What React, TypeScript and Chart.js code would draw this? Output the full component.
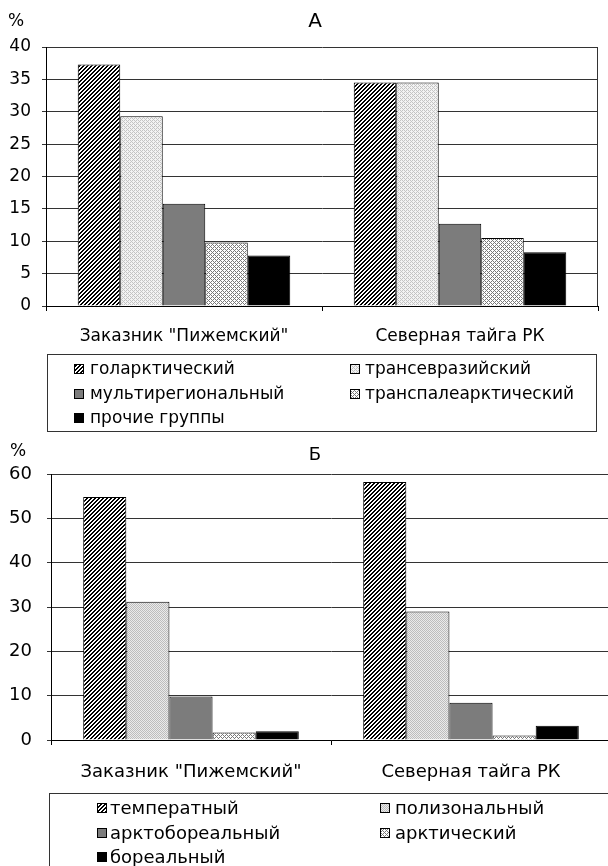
import React, { useEffect, useRef } from 'react';
import { Chart, registerables } from 'chart.js';

Chart.register(...registerables);

const FONT = '"DejaVu Sans", "Liberation Sans", sans-serif';
const GRID = '#333333';

// Panel А — chorological spectrum
const sites = ['Заказник "Пижемский"', 'Северная тайга РК'];
const groupsA = ['голарктический', 'трансевразийский', 'мультирегиональный', 'транспалеарктический', 'прочие группы'];
const holarcticA = [37.3, 34.5];
const transEurasianA = [29.3, 34.5];
const multiregionalA = [15.8, 12.7];
const transPalearcticA = [9.8, 10.5];
const otherGroupsA = [7.8, 8.3];
const yMaxA = 40;
const yStepA = 5;

// Panel Б — zonal spectrum
const groupsB = ['температный', 'полизональный', 'арктобореальный', 'арктический', 'бореальный'];
const temperateB = [54.8, 58.2];
const polyzonalB = [31.2, 29.0];
const arctoborealB = [9.8, 8.4];
const arcticB = [1.7, 1.0];
const borealB = [2.0, 3.2];
const yMaxB = 60;
const yStepB = 10;

type Fill = 'hatch' | 'dots' | 'dotsDense' | 'grey' | 'lattice' | 'black';

function tile(ctx: CanvasRenderingContext2D, n: number, base: string, ink: string, on: (x: number, y: number) => boolean) {
  const c = document.createElement('canvas');
  c.width = n;
  c.height = n;
  const g = c.getContext('2d')!;
  g.fillStyle = base;
  g.fillRect(0, 0, n, n);
  g.fillStyle = ink;
  for (let y = 0; y < n; y++) for (let x = 0; x < n; x++) if (on(x, y)) g.fillRect(x, y, 1, 1);
  return ctx.createPattern(c, 'repeat')!;
}

function makeFill(ctx: CanvasRenderingContext2D, kind: Fill): CanvasPattern | string {
  switch (kind) {
    case 'hatch':
      return tile(ctx, 4, '#ffffff', '#000000', (x, y) => (x + y) % 4 < 2);
    case 'dots':
      return tile(ctx, 4, '#f3f3f3', '#c4c4c4', (x, y) => (x % 2 === 0 && y % 2 === 0) || (x === 1 && y === 3) || (x === 3 && y === 1));
    case 'dotsDense':
      return tile(ctx, 2, '#eaeaea', '#bdbdbd', (x, y) => (x + y) % 2 === 0);
    case 'lattice':
      return tile(ctx, 4, '#ffffff', '#7a7a7a', (x, y) => (x + y) % 4 === 0 || (x - y + 4) % 4 === 0);
    case 'grey':
      return '#7c7c7c';
    default:
      return '#000000';
  }
}

interface Spec {
  W: number;
  H: number;
  top: number;
  labels: string[];
  series: string[];
  values: number[][];
  fills: Fill[];
  yMax: number;
  yStep: number;
  area: { left: number; top: number; right: number; bottom: number };
  textSize: number;
  tickSize: number;
  yPad: number;
  xPad: number;
  title: { text: string; x: number; y: number; size: number };
  pct: { x: number; y: number; size: number };
  legend: { box: [number, number, number, number]; markerX: number[]; textX: number[]; rowY: number[] };
}

function decor(spec: Spec) {
  return {
    id: 'decor',
    beforeDraw(chart: Chart) {
      const { ctx } = chart;
      ctx.save();
      ctx.fillStyle = '#ffffff';
      ctx.fillRect(0, 0, chart.width, chart.height);
      ctx.restore();
    },
    afterDraw(chart: Chart) {
      const { ctx, chartArea: a } = chart;
      ctx.save();
      // plot-area frame on the right
      ctx.strokeStyle = GRID;
      ctx.lineWidth = 1;
      ctx.beginPath();
      ctx.moveTo(Math.round(a.right) - 0.5, a.top);
      ctx.lineTo(Math.round(a.right) - 0.5, a.bottom);
      ctx.stroke();

      ctx.fillStyle = '#000';
      ctx.textBaseline = 'middle';
      ctx.textAlign = 'center';
      ctx.font = `${spec.title.size}px ${FONT}`;
      ctx.fillText(spec.title.text, spec.title.x, spec.title.y);
      ctx.textAlign = 'left';
      ctx.font = `${spec.pct.size}px ${FONT}`;
      ctx.fillText('%', spec.pct.x, spec.pct.y);

      // legend
      const [bx, by, bw, bh] = spec.legend.box;
      ctx.strokeStyle = '#333';
      ctx.strokeRect(bx + 0.5, by + 0.5, bw, bh);
      ctx.font = `${spec.textSize}px ${FONT}`;
      chart.data.datasets.forEach((ds: any, i: number) => {
        const col = i % 2;
        const row = Math.floor(i / 2);
        const mx = spec.legend.markerX[col];
        const cy = spec.legend.rowY[row];
        ctx.fillStyle = ds.backgroundColor;
        ctx.fillRect(mx, cy - 5, 10, 10);
        ctx.strokeStyle = '#000';
        ctx.strokeRect(mx + 0.5, cy - 4.5, 9, 9);
        ctx.fillStyle = '#000';
        ctx.fillText(ds.label, spec.legend.textX[col], cy + 1);
      });
      ctx.restore();
    },
  };
}

function Panel({ spec }: { spec: Spec }) {
  const ref = useRef<HTMLCanvasElement>(null);
  useEffect(() => {
    const canvas = ref.current!;
    const ctx = canvas.getContext('2d')!;
    const { area, W, H } = spec;
    const chart = new Chart(canvas, {
      type: 'bar',
      data: {
        labels: spec.labels,
        datasets: spec.values.map((v, i) => ({
          label: spec.series[i],
          data: v,
          backgroundColor: makeFill(ctx, spec.fills[i]) as any,
          borderColor: '#000',
          borderWidth: 1,
          categoryPercentage: 0.77,
          barPercentage: 1,
        })),
      },
      options: {
        animation: false,
        responsive: false,
        devicePixelRatio: 1,
        layout: { padding: { top: area.top, right: W - area.right, left: 0, bottom: 0 } },
        plugins: { legend: { display: false }, tooltip: { enabled: false }, title: { display: false } },
        scales: {
          x: {
            grid: { drawOnChartArea: false, drawTicks: true, tickLength: 5, color: '#000', offset: true },
            border: { color: '#000', width: 1 },
            ticks: { color: '#000', font: { family: FONT, size: spec.textSize }, padding: spec.xPad, maxRotation: 0, autoSkip: false },
            afterFit: (s: any) => {
              s.height = H - area.bottom;
            },
          },
          y: {
            min: 0,
            max: spec.yMax,
            grid: { color: GRID, tickLength: 4, drawTicks: true },
            border: { color: '#000', width: 1 },
            ticks: { stepSize: spec.yStep, color: '#000', font: { family: FONT, size: spec.tickSize }, padding: spec.yPad },
            afterFit: (s: any) => {
              s.width = area.left;
            },
          },
        },
      },
      plugins: [decor(spec)],
    });
    return () => chart.destroy();
  }, [spec]);
  return (
    <canvas
      ref={ref}
      width={spec.W}
      height={spec.H}
      style={{ position: 'absolute', left: 0, top: spec.top, width: spec.W, height: spec.H, display: 'block' }}
    />
  );
}

const specA: Spec = {
  W: 608,
  H: 432,
  top: 0,
  labels: sites,
  series: groupsA,
  values: [holarcticA, transEurasianA, multiregionalA, transPalearcticA, otherGroupsA],
  fills: ['hatch', 'dots', 'grey', 'lattice', 'black'],
  yMax: yMaxA,
  yStep: yStepA,
  area: { left: 46, top: 47, right: 598, bottom: 306 },
  textSize: 17,
  tickSize: 17,
  yPad: 11,
  xPad: 15,
  title: { text: 'А', x: 315, y: 22, size: 20 },
  pct: { x: 8, y: 22, size: 17 },
  legend: { box: [47, 354, 549, 77], markerX: [74, 350], textX: [90, 365], rowY: [369, 394, 418] },
};

const specB: Spec = {
  W: 616,
  H: 434,
  top: 432,
  labels: sites,
  series: groupsB,
  values: [temperateB, polyzonalB, arctoborealB, arcticB, borealB],
  fills: ['hatch', 'dotsDense', 'grey', 'lattice', 'black'],
  yMax: yMaxB,
  yStep: yStepB,
  area: { left: 51, top: 42, right: 611, bottom: 308 },
  textSize: 18,
  tickSize: 18,
  yPad: 15,
  xPad: 17,
  title: { text: 'Б', x: 315, y: 23, size: 18 },
  pct: { x: 10, y: 20, size: 17 },
  legend: { box: [49, 361, 600, 120], markerX: [97, 380], textX: [110, 395], rowY: [376, 401, 425] },
};

export default function App() {
  return (
    <div style={{ position: 'fixed', left: 0, top: 0, width: 608, height: 866, overflow: 'hidden', background: '#fff' }}>
      <Panel spec={specA} />
      <Panel spec={specB} />
    </div>
  );
}
